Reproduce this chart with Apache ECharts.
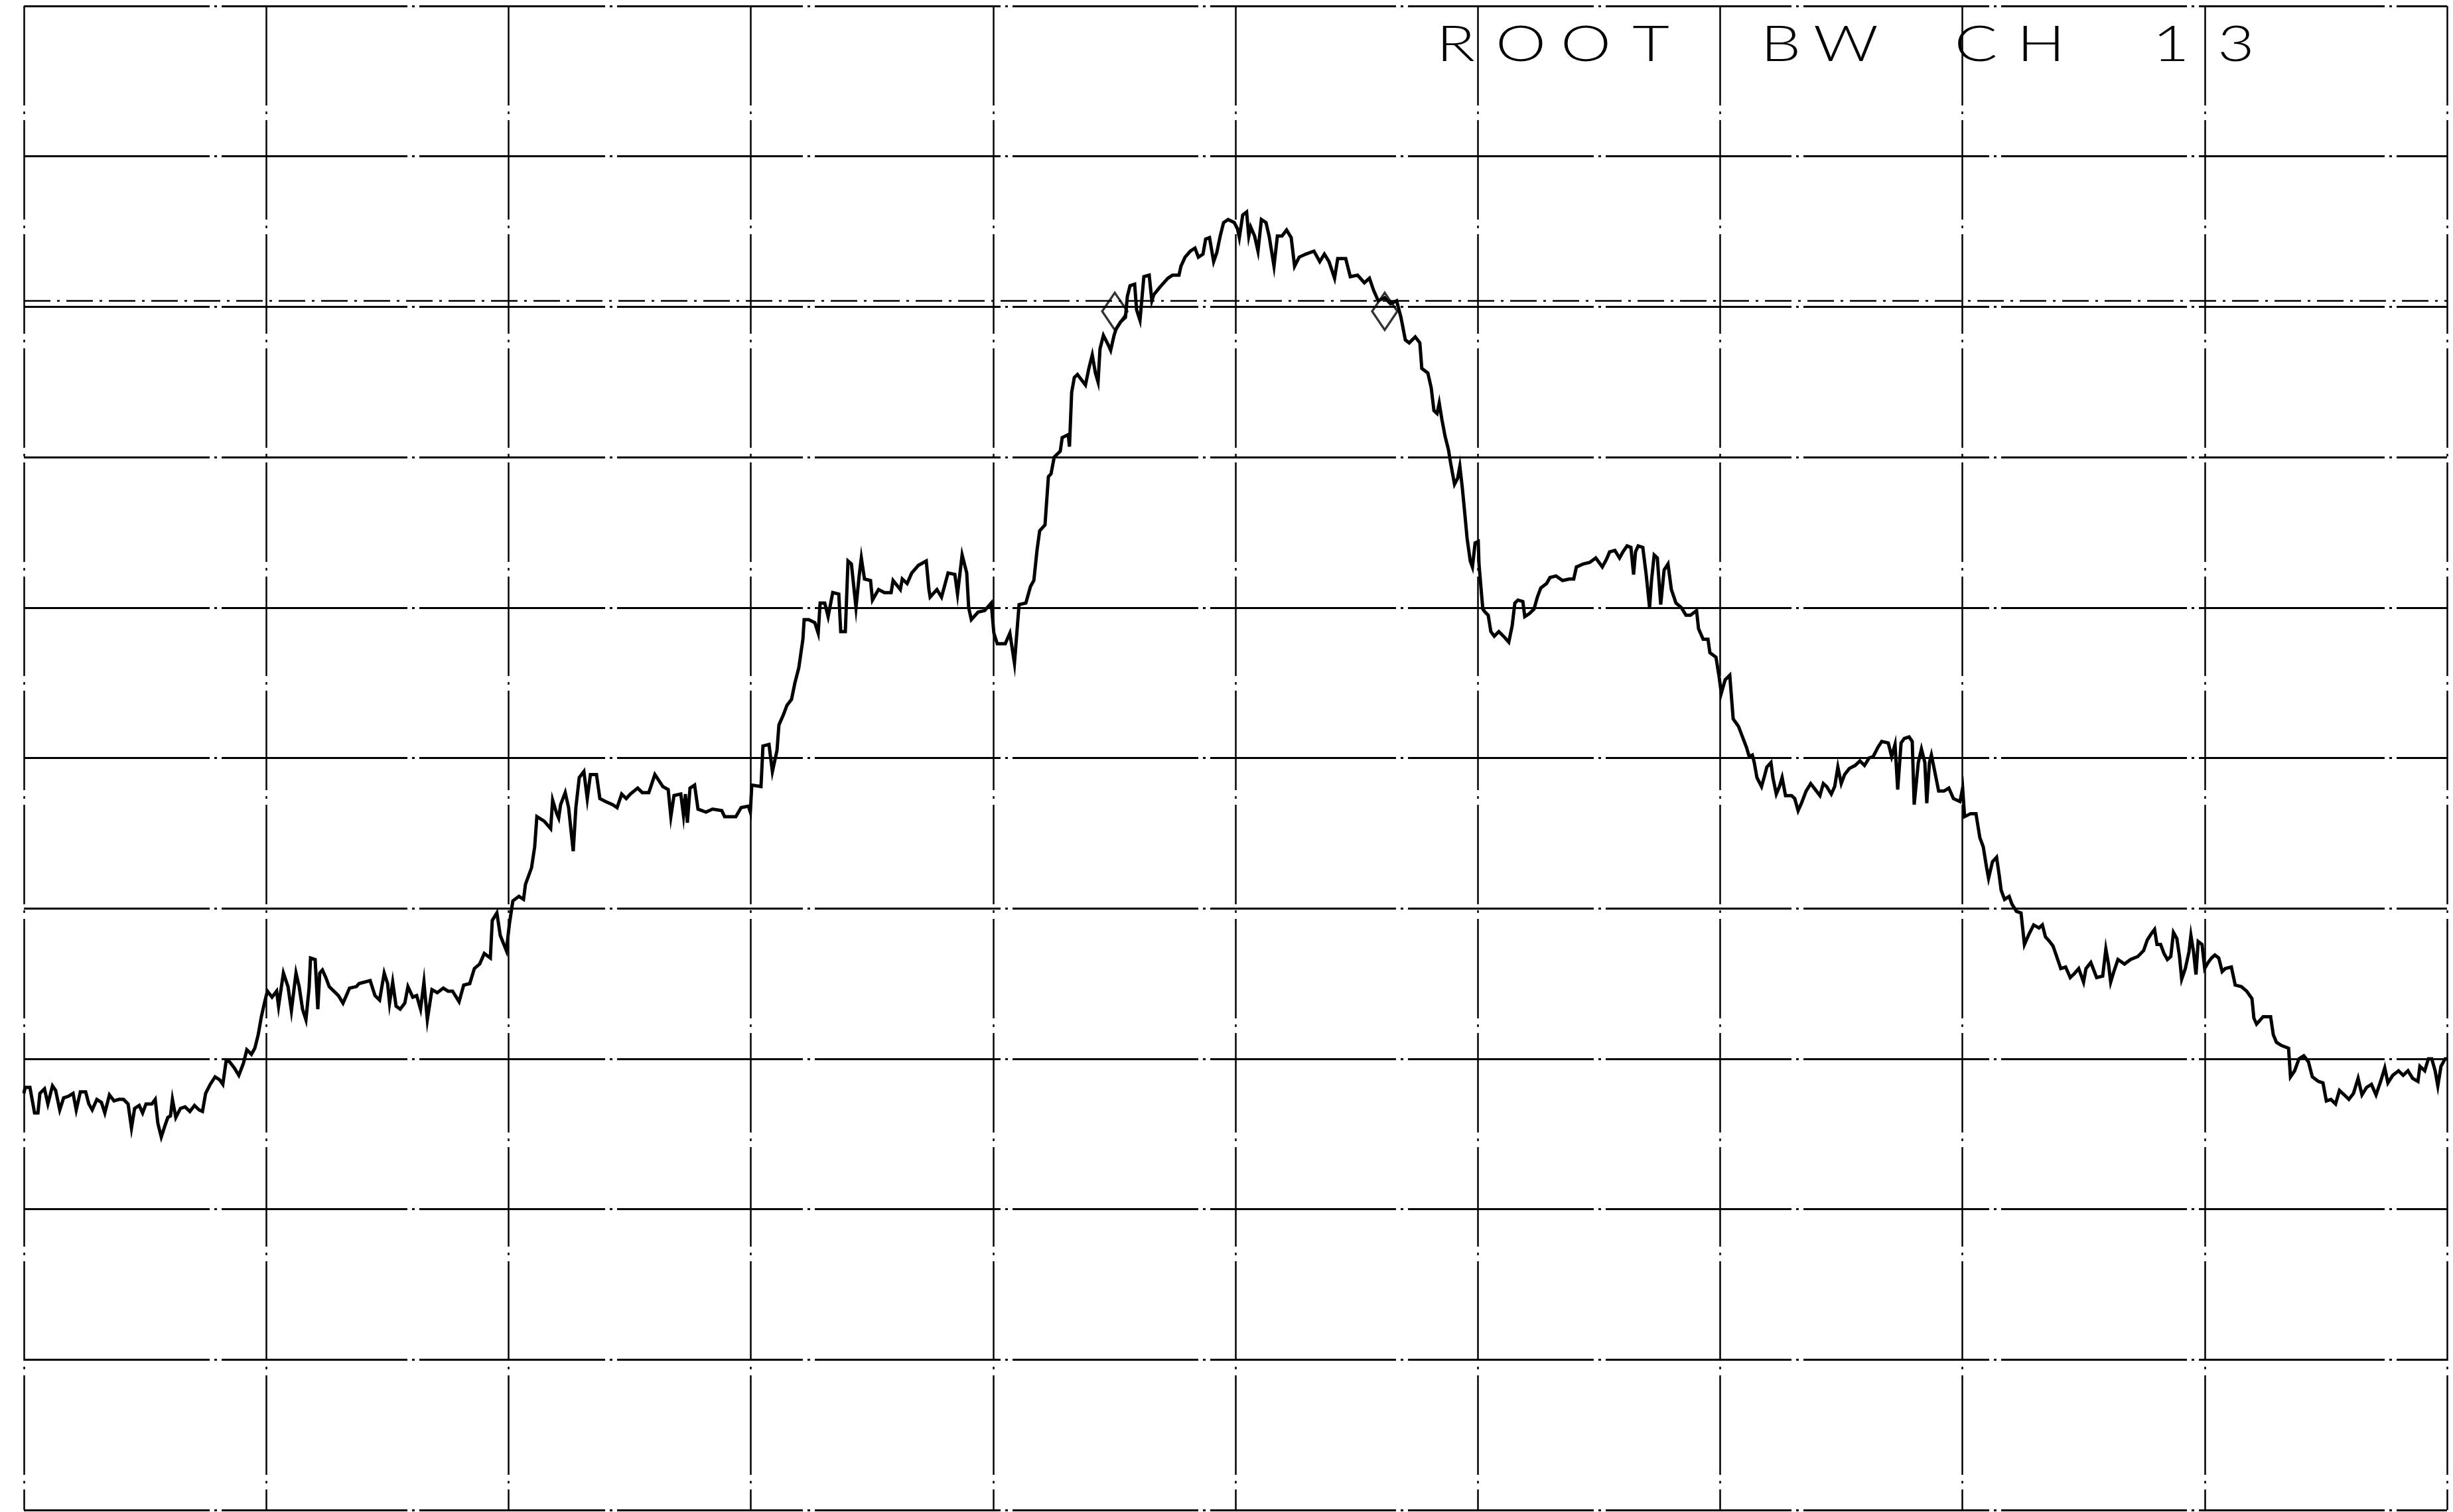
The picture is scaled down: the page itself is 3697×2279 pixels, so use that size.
<!DOCTYPE html>
<html>
<head>
<meta charset="utf-8">
<script src="https://cdn.jsdelivr.net/npm/echarts@6/dist/echarts.min.js"></script>
<style>
  html, body { margin: 0; padding: 0; background: #ffffff; }
  #chart { width: 3697px; height: 2279px; }
</style>
</head>
<body>
<div id="chart"></div>
<script>
// Spectrum analyzer sweep: x is the display point (0..1000 over ten divisions),
// y is the level in dB below the reference line (10 dB per division).
const tracePoints = [
  [0,-72.3],[0.5,-71.9],[2.5,-71.9],[4.4,-73.6],[5.8,-73.6],[6.6,-72.3],[8.5,-72.0],[9.9,-73.0],
  [11.8,-71.8],[13.1,-72.1],[14.8,-73.4],[16.4,-72.6],[18.3,-72.5],[20.3,-72.3],[21.6,-73.4],[23.3,-72.2],
  [25.5,-72.2],[26.8,-73.0],[28.2,-73.4],[30.1,-72.7],[32.0,-72.9],[33.4,-73.6],[35.3,-72.4],[37.2,-72.8],
  [39.2,-72.7],[41.1,-72.7],[43.0,-73.0],[44.4,-74.6],[45.7,-73.3],[47.6,-73.1],[49.0,-73.6],[50.4,-73.0],
  [52.8,-73.0],[54.2,-72.7],[55.3,-74.3],[56.7,-75.2],[58.1,-74.5],[59.4,-73.9],[60.5,-73.8],[61.3,-72.7],
  [62.7,-73.9],[64.6,-73.3],[66.5,-73.2],[68.5,-73.5],[70.4,-73.1],[72.3,-73.4],[73.7,-73.5],[75.0,-72.3],
  [76.9,-71.7],[78.9,-71.2],[80.8,-71.4],[82.1,-71.7],[83.5,-70.1],[84.9,-70.2],[86.8,-70.6],[88.7,-71.1],
  [90.6,-70.3],[92.0,-69.4],[93.9,-69.7],[95.3,-69.3],[96.7,-68.4],[98.0,-67.2],[99.4,-66.2],[100.5,-65.5],
  [102.4,-65.9],[104.3,-65.5],[105.1,-66.5],[107.1,-64.3],[109.0,-65.2],[110.4,-66.8],[112.3,-64.3],[113.6,-65.2],
  [115.0,-66.7],[116.4,-67.4],[117.7,-65.3],[118.3,-63.3],[120.2,-63.4],[121.3,-66.7],[122.1,-64.3],[123.2,-64.1],
  [124.6,-64.6],[126.0,-65.2],[127.9,-65.5],[129.8,-65.8],[131.7,-66.3],[134.4,-65.3],[137.2,-65.2],[138.3,-65.0],
  [142.9,-64.8],[144.9,-65.8],[146.8,-66.1],[148.7,-64.3],[150.1,-65.0],[150.9,-66.3],[152.2,-64.9],[153.6,-66.5],
  [155.3,-66.7],[157.2,-66.3],[158.5,-65.2],[160.5,-65.9],[162.1,-65.8],[163.7,-66.7],[165.1,-64.9],[166.5,-67.4],
  [168.4,-65.4],[170.6,-65.6],[173.1,-65.3],[175.0,-65.5],[176.9,-65.5],[179.6,-66.2],[181.5,-65.1],[184.0,-65.0],
  [185.9,-64.0],[188.1,-63.7],[190.0,-63.0],[192.5,-63.3],[193.3,-60.8],[195.2,-60.3],[196.6,-61.8],[199.1,-62.8],
  [200.4,-61.0],[201.8,-59.5],[204.3,-59.2],[206.2,-59.4],[207.0,-58.4],[209.5,-57.3],[210.8,-55.9],[211.7,-53.9],
  [214.7,-54.2],[217.4,-54.7],[218.2,-52.8],[219.9,-53.7],[220.7,-54.0],[221.5,-53.1],[223.4,-52.3],[224.8,-53.3],
  [226.7,-56.2],[227.8,-53.3],[229.2,-51.3],[231.1,-50.9],[232.5,-52.7],[233.8,-51.1],[236.3,-51.1],[237.7,-52.7],
  [240.1,-52.9],[242.9,-53.1],[244.8,-53.3],[246.7,-52.4],[248.6,-52.7],[250.3,-52.4],[253.3,-52.0],[255.2,-52.3],
  [257.9,-52.3],[260.4,-51.1],[263.7,-51.9],[265.9,-52.1],[267.0,-53.9],[268.3,-52.5],[271.1,-52.4],[272.2,-53.8],
  [273.0,-52.4],[273.8,-54.3],[274.9,-52.0],[276.8,-51.8],[278.2,-53.4],[281.5,-53.6],[284.2,-53.4],[288.0,-53.5],
  [289.2,-53.9],[293.8,-53.9],[296.0,-53.3],[299.0,-53.2],[299.8,-53.6],[300.4,-51.8],[304.2,-51.9],[305.0,-49.2],
  [307.5,-49.1],[308.9,-50.9],[310.8,-49.5],[311.6,-47.8],[313.5,-47.1],[314.9,-46.5],[316.8,-46.1],[318.2,-45.0],
  [319.8,-44.0],[320.6,-43.1],[321.5,-42.1],[322.0,-40.8],[323.9,-40.8],[326.4,-41.0],[327.8,-41.7],[328.6,-39.7],
  [330.5,-39.7],[331.9,-40.6],[333.8,-39.0],[336.3,-39.1],[337.1,-41.6],[339.0,-41.6],[340.1,-36.9],[341.5,-37.1],
  [343.4,-40.0],[344.7,-37.9],[345.6,-36.7],[346.9,-38.1],[349.4,-38.2],[350.2,-39.5],[352.7,-38.8],[355.1,-39.0],
  [357.9,-39.0],[358.7,-38.2],[361.7,-38.8],[362.5,-38.1],[364.5,-38.4],[366.4,-37.7],[369.1,-37.2],[372.4,-36.9],
  [373.5,-38.8],[374.0,-39.3],[376.8,-38.8],[378.7,-39.3],[381.4,-37.7],[384.2,-37.8],[385.3,-39.1],[387.2,-36.5],
  [389.1,-37.7],[389.9,-40.0],[391.0,-40.8],[393.8,-40.3],[396.5,-40.2],[399.2,-39.7],[400.3,-41.7],[401.7,-42.4],
  [405.0,-42.4],[406.9,-41.7],[408.8,-43.7],[410.7,-39.8],[413.5,-39.7],[415.4,-38.6],[416.8,-38.2],[418.1,-36.2],
  [419.2,-34.9],[421.4,-34.5],[422.8,-31.3],[423.9,-31.1],[425.2,-30.0],[427.7,-29.6],[428.5,-28.7],[431.0,-28.5],
  [431.5,-29.3],[432.4,-25.7],[433.5,-24.7],[434.8,-24.5],[436.2,-24.8],[438.1,-25.2],[439.5,-24.1],[440.9,-23.2],
  [442.2,-24.4],[443.3,-25.0],[444.1,-22.8],[445.5,-21.9],[447.4,-22.5],[448.5,-22.9],[449.9,-21.9],[450.7,-21.5],
  [452.6,-21.0],[454.6,-20.7],[455.4,-19.3],[456.5,-18.6],[458.4,-18.5],[459.2,-20.2],[460.6,-20.9],[462.2,-18.0],
  [464.4,-17.9],[465.5,-19.6],[466.3,-19.2],[468.8,-18.7],[472.1,-18.1],[474.0,-17.9],[476.7,-17.9],[477.5,-17.3],
  [479.2,-16.7],[481.4,-16.3],[483.3,-16.1],[484.7,-16.7],[486.6,-16.5],[487.7,-15.5],[489.3,-15.4],[491.0,-17.0],
  [492.3,-16.4],[493.7,-15.3],[495.1,-14.4],[497.0,-14.2],[499.5,-14.4],[500.8,-14.8],[501.6,-15.4],[503.0,-13.9],
  [504.6,-13.7],[505.5,-15.3],[506.3,-14.7],[507.9,-15.3],[509.3,-16.3],[510.7,-14.2],[512.6,-14.4],[513.9,-15.3],
  [515.9,-17.3],[517.3,-15.3],[519.2,-15.3],[521.1,-14.9],[523.0,-15.4],[524.4,-17.3],[526.3,-16.7],[529.0,-16.5],
  [532.4,-16.3],[534.8,-17.0],[536.7,-16.5],[538.6,-17.0],[540.9,-18.1],[542.2,-16.8],[545.5,-16.8],[547.4,-18.0],
  [550.4,-17.9],[553.2,-18.4],[555.3,-18.1],[557.0,-18.9],[558.9,-19.6],[561.6,-19.4],[564.0,-19.8],[566.5,-19.6],
  [568.3,-20.7],[570.1,-22.2],[571.7,-22.4],[574.2,-22.0],[576.1,-22.4],[576.9,-24.1],[579.4,-24.4],[580.8,-25.4],
  [581.9,-26.9],[583.2,-27.1],[584.1,-26.4],[585.2,-27.5],[586.5,-28.6],[587.9,-29.5],[588.7,-30.3],[590.4,-31.8],
  [591.7,-31.4],[592.6,-30.6],[593.6,-32.0],[594.5,-33.5],[595.6,-35.4],[596.9,-36.9],[597.8,-37.3],[598.9,-35.7],
  [600.2,-35.6],[600.5,-37.1],[601.6,-39.2],[602.1,-40.1],[603.0,-40.3],[604.3,-40.5],[605.4,-41.6],[606.8,-41.9],
  [608.7,-41.6],[610.6,-41.9],[612.8,-42.3],[614.2,-41.2],[615.3,-39.7],[616.6,-39.5],[618.6,-39.6],[619.4,-40.6],
  [621.3,-40.4],[623.2,-40.1],[624.6,-39.3],[626.0,-38.7],[628.4,-38.4],[629.8,-38.0],[632.3,-37.9],[635.0,-38.2],
  [637.7,-38.1],[639.6,-38.1],[640.7,-37.3],[643.5,-37.1],[646.2,-37.0],[648.7,-36.7],[651.4,-37.3],[653.1,-36.8],
  [654.4,-36.3],[656.6,-36.2],[658.5,-36.7],[659.9,-36.3],[661.6,-35.9],[663.2,-36.0],[664.3,-37.8],[665.1,-36.3],
  [666.2,-35.9],[668.1,-36.0],[669.5,-37.8],[670.9,-40.0],[671.7,-38.2],[672.8,-36.5],[674.1,-36.7],[675.5,-39.8],
  [676.9,-37.5],[678.5,-37.1],[679.9,-38.8],[681.8,-39.7],[684.0,-40.0],[685.9,-40.5],[687.8,-40.5],[690.3,-40.2],
  [691.1,-41.4],[693.0,-42.1],[695.0,-42.1],[695.8,-43.0],[698.3,-43.3],[699.6,-44.6],[700.5,-45.7],[702.1,-44.8],
  [704.0,-44.5],[705.4,-47.4],[707.6,-47.9],[709.5,-48.7],[710.9,-49.3],[712.0,-49.9],[713.3,-49.8],[714.1,-50.3],
  [715.2,-51.3],[717.1,-51.9],[718.5,-51.1],[719.3,-50.6],[721.0,-50.3],[721.8,-51.3],[723.2,-52.4],[724.5,-51.9],
  [725.6,-51.3],[727.0,-52.5],[729.5,-52.5],[730.8,-52.7],[732.2,-53.5],[733.6,-53.0],[735.5,-52.2],[737.4,-51.7],
  [739.3,-52.1],[741.2,-52.5],[742.6,-51.7],[744.0,-51.9],[745.9,-52.4],[747.3,-51.9],[748.6,-50.6],[750.0,-51.7],
  [751.4,-51.1],[753.3,-50.7],[755.7,-50.5],[757.7,-50.2],[759.6,-50.5],[761.5,-50.0],[763.2,-49.9],[765.1,-49.3],
  [766.7,-48.9],[769.4,-49.0],[770.8,-49.9],[772.2,-49.1],[773.3,-52.1],[774.7,-49.0],[776.0,-48.7],[778.0,-48.6],
  [779.3,-48.9],[780.1,-53.1],[781.8,-50.3],[783.1,-49.4],[784.5,-50.3],[785.3,-53.0],[786.4,-50.3],[787.2,-49.8],
  [788.6,-50.9],[790.2,-52.2],[792.4,-52.2],[794.4,-52.0],[796.3,-52.7],[799.0,-52.9],[800.1,-52.0],[800.9,-53.9],
  [803.4,-53.7],[805.6,-53.7],[807.2,-55.3],[808.6,-55.9],[810.0,-57.3],[810.8,-58.0],[812.4,-56.9],[814.1,-56.6],
  [815.2,-57.8],[816.0,-58.8],[817.4,-59.4],[819.3,-59.2],[820.4,-59.7],[822.3,-60.2],[824.2,-60.3],[825.6,-62.4],
  [827.5,-61.7],[829.4,-61.1],[831.6,-61.3],[833.0,-61.1],[834.3,-61.9],[836.0,-62.2],[837.4,-62.5],[838.7,-63.1],
  [840.6,-64.0],[842.6,-63.9],[844.5,-64.6],[846.4,-64.3],[848.0,-64.0],[850.0,-64.9],[851.0,-64.0],[853.0,-63.6],
  [855.4,-64.6],[857.9,-64.5],[859.2,-62.7],[860.3,-63.7],[861.2,-64.9],[862.5,-64.2],[864.2,-63.4],[866.9,-63.7],
  [869.4,-63.4],[872.4,-63.2],[874.8,-62.8],[876.3,-62.1],[877.9,-61.7],[879.3,-61.4],[880.3,-62.4],[881.8,-62.4],
  [883.2,-63.0],[884.6,-63.4],[886.0,-63.2],[887.1,-61.6],[888.5,-62.0],[889.6,-63.2],[890.5,-64.7],[892.0,-64.0],
  [893.5,-62.9],[894.3,-61.8],[895.4,-62.9],[896.4,-64.4],[897.3,-62.2],[898.9,-62.4],[900.0,-64.0],[901.4,-63.6],
  [902.8,-63.3],[904.2,-63.1],[905.8,-63.3],[907.2,-64.2],[908.5,-64.0],[911.0,-63.9],[912.6,-65.1],[915.1,-65.2],
  [917.3,-65.5],[919.5,-66.0],[920.3,-67.3],[921.4,-67.7],[924.1,-67.2],[927.2,-67.2],[928.3,-68.4],[929.6,-68.9],
  [931.5,-69.1],[934.6,-69.3],[935.4,-71.2],[937.1,-70.8],[938.9,-70.0],[940.9,-69.8],[942.8,-70.2],[944.4,-71.2],
  [946.9,-71.5],[948.8,-71.6],[950.2,-72.8],[952.1,-72.7],[954.0,-73.0],[955.6,-72.1],[957.6,-72.4],[959.5,-72.7],
  [961.4,-72.3],[963.3,-71.3],[964.9,-72.4],[966.8,-71.9],[968.8,-71.7],[970.7,-72.4],[972.6,-71.5],[974.3,-70.6],
  [975.6,-71.6],[977.6,-71.1],[980.0,-70.8],[981.9,-71.1],[983.9,-70.8],[985.8,-71.3],[988.0,-71.5],[988.8,-70.5],
  [990.8,-70.8],[992.3,-70.0],[993.7,-70.0],[995.1,-70.8],[996.2,-71.8],[997.5,-70.5],[999.2,-70.0],[1000,-70.0]
];

// Two bandwidth markers and the display line drawn just above the third graticule line.
const markerX = [450.2, 561.6];
const markerY = [-20.3, -20.3];
const displayLineDb = -19.6;

// Graticule: ten divisions each way.
const xRange = [0, 1000];
const xStep = 100;
const yRange = [-100, 0];
const yStep = 10;

const annotation = 'ROOT BW CH 13';

const chart = echarts.init(document.getElementById('chart'), null, { renderer: 'canvas' });

// Plotter-style annotation: fixed character pitch, wide thin glyphs.
const charPitch = 98;
const firstCharX = 2194;
const annotationY = 68;
const glyphs = annotation.split('').map(function (ch, i) {
  if (ch === ' ') return null;
  return {
    type: 'text',
    x: firstCharX + i * charPitch,
    y: annotationY,
    scaleX: 1.3,
    z: 10,
    style: {
      text: ch,
      fill: '#000',
      font: '300 74px Lato',
      textAlign: 'center',
      textVerticalAlign: 'middle',
      align: 'center',
      verticalAlign: 'middle'
    }
  };
}).filter(Boolean);

const option = {
  animation: false,
  backgroundColor: '#ffffff',
  grid: { left: 36, right: 9, top: 9, bottom: 3, containLabel: false },
  xAxis: {
    type: 'value',
    min: xRange[0],
    max: xRange[1],
    interval: xStep,
    axisLine: { show: false },
    axisTick: { show: false },
    axisLabel: { show: false },
    splitLine: {
      show: true,
      showMinLine: true,
      showMaxLine: true,
      lineStyle: { color: '#000', width: 2.5, type: [150, 9, 4, 9] }
    }
  },
  yAxis: {
    type: 'value',
    min: yRange[0],
    max: yRange[1],
    interval: yStep,
    axisLine: { show: false },
    axisTick: { show: false },
    axisLabel: { show: false },
    splitLine: {
      show: true,
      showMinLine: true,
      showMaxLine: true,
      lineStyle: { color: '#000', width: 3, type: [280, 7, 4, 7] }
    }
  },
  graphic: glyphs,
  series: [
    {
      name: 'trace',
      type: 'line',
      data: tracePoints,
      showSymbol: false,
      symbol: 'none',
      smooth: false,
      lineStyle: { color: '#000', width: 5, join: 'miter' },
      z: 3,
      markLine: {
        silent: true,
        symbol: ['none', 'none'],
        label: { show: false },
        lineStyle: { color: '#000', width: 2.5, type: [40, 10, 4, 10] },
        data: [{ yAxis: displayLineDb }]
      }
    },
    {
      name: 'markers',
      type: 'scatter',
      data: markerX.map(function (x, i) { return [x, markerY[i]]; }),
      symbol: 'diamond',
      symbolSize: [38, 56],
      itemStyle: { color: 'rgba(255,255,255,0)', borderColor: '#000', borderWidth: 3.5 },
      z: 4
    }
  ]
};

chart.setOption(option);
</script>
</body>
</html>
